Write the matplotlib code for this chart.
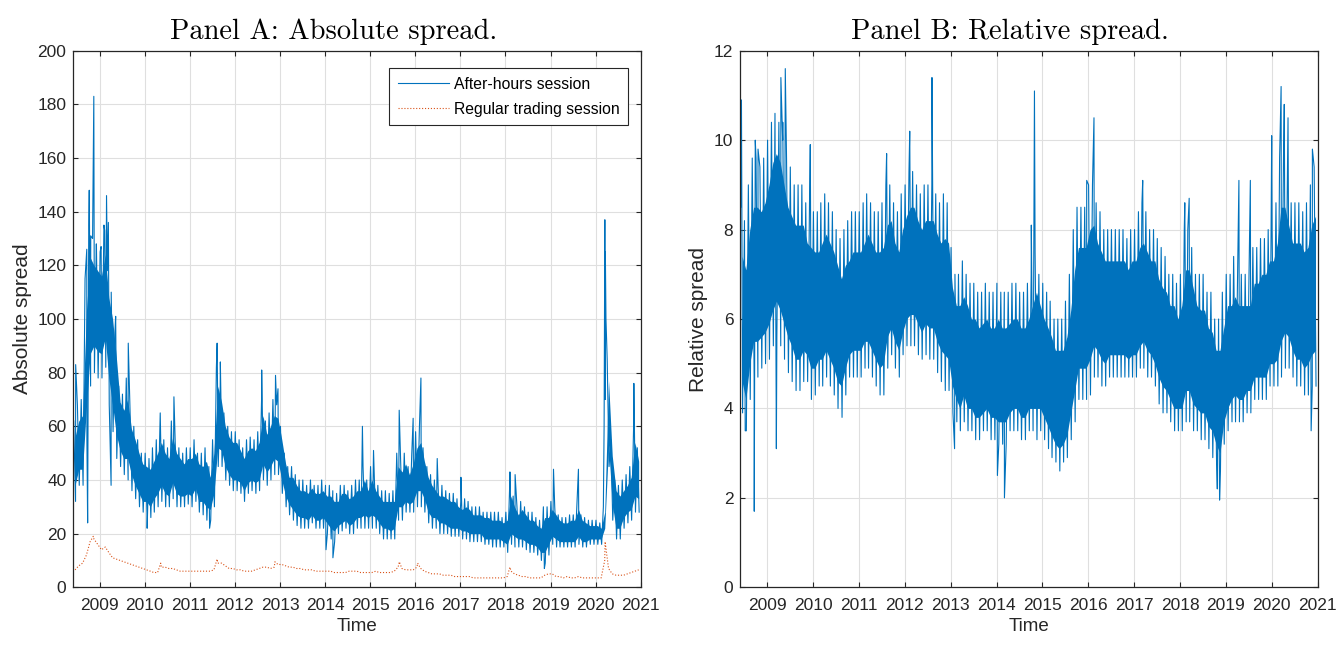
import numpy as np
import pandas as pd
import matplotlib
matplotlib.use("Agg")
import matplotlib.pyplot as plt
import matplotlib.dates as mdates

plt.rcParams['font.family'] = ['Liberation Sans', 'DejaVu Sans']

# monthly grid, Jun 2008 .. Dec 2020
months = pd.date_range("2008-06-01", "2020-12-01", freq="MS")

# Panel A, after-hours session: typical daily extremes per month
abs_hi = [62, 68, 70, 115, 135, 130, 128,
          125, 135, 118, 110, 95, 75, 72, 78, 65, 60, 55, 50,
          50, 48, 52, 55, 60, 55, 52, 62, 55, 52, 50, 52,
          52, 55, 50, 50, 52, 45, 55, 82, 75, 65, 60, 58,
          58, 55, 52, 55, 56, 55, 58, 70, 62, 65, 70, 68,
          60, 50, 45, 45, 42, 40, 40, 38, 40, 38, 38, 40,
          38, 38, 36, 35, 38, 38, 36, 38, 40, 40, 45, 40,
          45, 40, 38, 36, 36, 35, 36, 50, 48, 50, 45, 50,
          58, 60, 52, 45, 42, 40, 38, 38, 36, 35, 35, 33,
          32, 33, 32, 30, 30, 30, 28, 28, 28, 28, 28, 26,
          28, 38, 34, 30, 32, 30, 28, 28, 26, 25, 30, 30,
          32, 30, 27, 26, 26, 27, 27, 32, 27, 26, 25, 25,
          25, 24, 30, 85, 55, 40, 38, 40, 42, 45, 60, 52]
abs_lo = [32, 38, 38, 55, 75, 80, 78,
          78, 82, 68, 58, 48, 45, 42, 40, 36, 33, 30, 28,
          27, 26, 28, 30, 32, 30, 30, 33, 30, 30, 30, 31,
          30, 32, 28, 27, 25, 25, 30, 45, 45, 40, 38, 36,
          36, 35, 32, 35, 36, 35, 36, 40, 38, 40, 42, 42,
          35, 30, 27, 25, 23, 22, 22, 22, 24, 22, 22, 22,
          20, 18, 17, 20, 21, 22, 20, 20, 22, 22, 22, 22,
          22, 22, 20, 18, 18, 18, 18, 25, 25, 28, 28, 28,
          30, 30, 28, 24, 22, 22, 20, 20, 20, 19, 19, 19,
          18, 18, 17, 17, 17, 17, 16, 16, 15, 15, 15, 15,
          13, 16, 15, 15, 15, 14, 13, 13, 12, 10, 9, 12,
          16, 15, 15, 15, 15, 15, 15, 16, 15, 15, 16, 16,
          16, 16, 70, 45, 25, 18, 18, 22, 24, 25, 28, 28]
# dense core of the band per month
abs_core_hi = [56, 62, 64, 103, 123, 120, 118,
               116, 124, 108, 100, 86, 69, 66, 70, 59, 55, 50, 46,
               45, 44, 47, 50, 54, 50, 48, 56, 50, 48, 46, 48,
               48, 50, 46, 45, 47, 41, 50, 75, 69, 60, 56, 54,
               54, 51, 48, 51, 52, 51, 54, 64, 57, 60, 64, 63,
               55, 46, 41, 41, 38, 36, 36, 35, 37, 35, 35, 36,
               34, 34, 32, 32, 35, 35, 33, 34, 36, 36, 40, 36,
               40, 36, 34, 32, 32, 32, 32, 45, 43, 46, 42, 46,
               52, 54, 47, 41, 38, 36, 34, 34, 33, 32, 32, 30,
               29, 30, 29, 27, 27, 27, 26, 26, 25, 25, 25, 24,
               25, 34, 30, 27, 29, 27, 25, 25, 23, 22, 26, 26,
               29, 27, 25, 24, 24, 25, 25, 29, 25, 24, 23, 23,
               23, 22, 28, 77, 49, 36, 34, 36, 38, 41, 54, 47]
abs_core_lo = [38, 44, 44, 67, 87, 90, 88,
               87, 93, 78, 68, 57, 51, 48, 48, 42, 38, 35, 32,
               32, 30, 33, 35, 38, 35, 34, 39, 35, 34, 34, 35,
               34, 37, 32, 32, 30, 29, 35, 52, 51, 45, 42, 40,
               40, 39, 36, 39, 40, 39, 40, 46, 43, 45, 48, 47,
               40, 34, 31, 29, 27, 26, 26, 25, 27, 25, 25, 26,
               24, 22, 21, 23, 24, 25, 23, 24, 26, 26, 27, 26,
               27, 26, 24, 22, 22, 21, 22, 30, 30, 32, 31, 32,
               36, 36, 33, 28, 26, 26, 24, 24, 23, 22, 22, 22,
               21, 21, 20, 20, 20, 20, 18, 18, 18, 18, 18, 17,
               16, 20, 19, 18, 18, 17, 16, 16, 15, 13, 13, 16,
               19, 18, 17, 17, 17, 17, 17, 19, 17, 17, 18, 18,
               18, 18, 22, 53, 31, 22, 22, 26, 28, 29, 34, 33]
abs_spikes = [("2008-06-20", 83), ("2008-09-18", 126), ("2008-09-25", 24),
              ("2008-10-08", 148), ("2008-10-20", 131), ("2008-11-14", 183),
              ("2008-12-05", 128), ("2009-01-12", 127), ("2009-02-10", 133),
              ("2009-02-25", 146), ("2009-03-12", 136), ("2009-04-03", 38),
              ("2009-05-10", 101), ("2009-08-20", 91), ("2010-01-20", 22),
              ("2010-05-06", 65), ("2010-08-25", 71), ("2011-06-10", 22),
              ("2011-08-10", 91), ("2011-09-05", 84), ("2012-08-05", 81),
              ("2012-11-25", 79), ("2012-12-15", 74), ("2014-01-08", 14),
              ("2014-03-05", 11), ("2014-10-30", 60), ("2015-01-28", 51),
              ("2015-08-24", 66), ("2015-12-15", 63), ("2016-02-16", 78),
              ("2016-06-27", 48), ("2017-01-05", 41), ("2018-02-06", 43),
              ("2018-03-20", 42), ("2018-11-12", 7), ("2019-01-25", 44),
              ("2019-08-15", 44), ("2020-03-10", 60), ("2020-03-16", 137),
              ("2020-03-20", 125), ("2020-03-25", 100), ("2020-11-06", 76)]

# Panel A, regular trading session (monthly level)
reg_abs = [6.5, 8, 9, 12, 17, 18, 16,
           14, 15, 13, 11, 10.5, 10, 9.5, 9, 8.5, 8, 7.5, 7,
           6.5, 6, 5.5, 5.5, 7.5, 7.5, 7, 7, 6.5, 6, 6, 6,
           6, 6, 6, 6, 6, 6, 6.5, 9, 9, 8, 7, 7,
           6.5, 6.5, 6, 6, 6, 6.5, 7, 7.5, 7.5, 7, 7.5, 8.5,
           8.5, 8, 7.5, 7.5, 7, 7, 6.5, 6.5, 6.5, 6, 6, 6,
           6, 6, 5.5, 5.5, 5.5, 5.5, 6, 6, 6, 5.5, 5.5, 5.5,
           5.5, 6, 5.5, 5.5, 5.5, 5.5, 6, 7.5, 7, 6.5, 6.5, 6.5,
           7.5, 7, 6, 5.5, 5, 5, 5, 4.5, 4.5, 4.5, 4, 4,
           4, 4, 4, 3.5, 3.5, 3.5, 3.5, 3.5, 3.5, 3.5, 3.5, 3.5,
           4, 6, 5, 4.5, 4, 4, 3.5, 3.5, 3.5, 3.5, 4.5, 5,
           5, 4, 4, 3.5, 4, 3.5, 3.5, 4, 3.5, 3.5, 3.5, 3.5,
           3.5, 3.5, 10, 7, 5, 4.5, 4.5, 4.5, 5, 5.5, 6, 6.5]
reg_spikes = [("2008-11-10", 19), ("2010-05-10", 9), ("2011-08-10", 10.5),
              ("2012-11-20", 9.5), ("2015-08-25", 9.5), ("2016-01-20", 9),
              ("2018-02-06", 7.5), ("2020-03-18", 17)]

# Panel B, relative spread: typical daily extremes per month
rel_hi = [8.5, 8.2, 9.0, 9.6, 9.6, 9.4, 9.6,
          10.0, 10.4, 10.6, 10.4, 10.0, 9.6, 9.4, 9.0, 9.0, 9.0, 8.6, 8.6,
          8.4, 8.4, 8.6, 8.8, 8.6, 8.4, 8.0, 7.8, 8.0, 8.2, 8.4, 8.4,
          8.4, 8.6, 8.8, 8.6, 8.4, 8.4, 8.6, 9.0, 9.0, 8.6, 8.4, 8.8,
          9.0, 9.3, 9.3, 9.0, 8.8, 9.0, 9.0, 9.0, 8.8, 8.6, 8.8, 8.6,
          7.6, 7.0, 7.0, 7.3, 7.0, 6.8, 6.8, 6.6, 6.6, 6.8, 6.6, 6.6,
          6.8, 6.6, 6.6, 6.6, 6.8, 6.8, 6.6, 6.6, 6.8, 7.0, 7.5, 7.0,
          6.8, 6.6, 6.4, 6.0, 6.0, 6.0, 6.4, 7.0, 8.0, 8.5, 8.5, 8.5,
          9.0, 9.0, 8.6, 8.4, 8.0, 8.0, 8.0, 8.0, 8.0, 8.0, 7.8, 8.0,
          8.0, 8.4, 8.6, 8.4, 8.0, 8.0, 7.8, 7.6, 7.4, 7.0, 7.0, 6.8,
          7.0, 8.0, 8.0, 7.6, 7.0, 7.0, 7.0, 6.6, 6.6, 6.0, 6.0, 6.6,
          7.0, 7.0, 7.4, 7.0, 7.0, 7.0, 7.0, 7.6, 7.6, 7.8, 7.8, 8.0,
          8.0, 8.6, 9.6, 9.6, 9.0, 8.6, 8.6, 8.6, 8.4, 8.6, 9.0, 9.4]
rel_lo = [3.9, 3.5, 4.2, 4.7, 4.7, 4.9, 5.0,
          5.1, 5.4, 5.6, 5.4, 5.1, 4.8, 4.6, 4.4, 4.4, 4.6, 4.6, 4.2,
          4.3, 4.5, 4.5, 4.7, 4.5, 4.3, 4.0, 3.9, 4.3, 4.7, 4.7, 4.7,
          4.7, 4.9, 4.9, 4.7, 4.5, 4.3, 4.3, 4.9, 5.2, 4.9, 4.7, 5.2,
          5.4, 5.4, 5.4, 5.2, 5.1, 5.2, 5.1, 5.1, 4.8, 4.6, 4.4, 4.4,
          3.9, 3.7, 3.5, 3.7, 3.5, 3.5, 3.3, 3.3, 3.5, 3.5, 3.3, 3.3,
          3.2, 3.2, 3.2, 3.5, 3.5, 3.5, 3.3, 3.3, 3.5, 3.5, 3.3, 3.5,
          3.3, 3.1, 2.9, 2.8, 2.7, 2.8, 2.9, 3.3, 3.7, 4.2, 4.2, 4.2,
          4.3, 4.7, 4.7, 4.5, 4.5, 4.7, 4.7, 4.7, 4.7, 4.7, 4.7, 4.7,
          4.7, 4.9, 4.9, 4.7, 4.7, 4.5, 4.1, 3.9, 3.9, 3.7, 3.5, 3.5,
          3.5, 3.7, 3.7, 3.5, 3.5, 3.3, 3.3, 3.1, 2.9, 2.8, 2.6, 3.2,
          3.5, 3.7, 3.7, 3.7, 3.7, 3.9, 3.9, 4.2, 4.2, 4.2, 4.2, 4.5,
          4.5, 4.5, 4.7, 4.9, 4.9, 4.7, 4.5, 4.5, 4.3, 4.3, 4.5, 4.5]
# dense core of the band per month
rel_core_hi = [7.4, 7.1, 8.0, 8.5, 8.5, 8.4, 8.6,
               9.0, 9.5, 9.7, 9.5, 9.0, 8.5, 8.3, 8.1, 8.1, 8.1, 7.7, 7.6,
               7.5, 7.5, 7.7, 7.9, 7.7, 7.5, 7.2, 6.9, 7.2, 7.3, 7.5, 7.5,
               7.5, 7.7, 7.9, 7.7, 7.5, 7.5, 7.6, 8.1, 8.2, 7.7, 7.5, 8.0,
               8.3, 8.5, 8.5, 8.2, 8.0, 8.2, 8.2, 8.2, 7.9, 7.7, 7.8, 7.7,
               6.7, 6.3, 6.3, 6.5, 6.3, 6.0, 6.0, 5.8, 5.9, 6.0, 5.8, 5.8,
               6.0, 5.8, 5.8, 5.9, 6.0, 6.0, 5.8, 5.8, 6.0, 6.3, 6.6, 6.3,
               6.0, 5.8, 5.6, 5.3, 5.3, 5.3, 5.6, 6.2, 7.1, 7.6, 7.6, 7.6,
               8.0, 8.1, 7.7, 7.5, 7.3, 7.3, 7.3, 7.3, 7.3, 7.3, 7.1, 7.3,
               7.3, 7.6, 7.7, 7.5, 7.3, 7.3, 6.9, 6.7, 6.6, 6.3, 6.3, 6.0,
               6.3, 7.1, 7.1, 6.7, 6.3, 6.2, 6.2, 5.8, 5.7, 5.3, 5.3, 5.8,
               6.3, 6.3, 6.5, 6.3, 6.3, 6.3, 6.3, 6.8, 6.8, 7.0, 7.0, 7.3,
               7.3, 7.7, 8.5, 8.5, 8.1, 7.7, 7.7, 7.7, 7.5, 7.6, 8.1, 8.3]
rel_core_lo = [4.6, 4.2, 5.0, 5.5, 5.5, 5.6, 5.7,
               5.9, 6.2, 6.4, 6.2, 5.9, 5.6, 5.4, 5.1, 5.1, 5.3, 5.2, 4.9,
               4.9, 5.1, 5.1, 5.3, 5.1, 4.9, 4.6, 4.5, 4.9, 5.2, 5.3, 5.3,
               5.3, 5.5, 5.5, 5.3, 5.1, 4.9, 5.0, 5.6, 5.8, 5.5, 5.3, 5.7,
               6.0, 6.1, 6.1, 5.9, 5.7, 5.9, 5.8, 5.8, 5.5, 5.3, 5.2, 5.1,
               4.5, 4.2, 4.0, 4.3, 4.0, 4.0, 3.8, 3.8, 3.9, 4.0, 3.8, 3.8,
               3.7, 3.7, 3.7, 3.9, 4.0, 4.0, 3.8, 3.8, 4.0, 4.0, 4.0, 4.0,
               3.8, 3.6, 3.4, 3.2, 3.1, 3.2, 3.4, 3.9, 4.4, 4.9, 4.9, 4.9,
               5.1, 5.4, 5.3, 5.1, 5.0, 5.2, 5.2, 5.2, 5.2, 5.2, 5.1, 5.2,
               5.2, 5.4, 5.5, 5.3, 5.2, 5.0, 4.7, 4.5, 4.4, 4.2, 4.0, 4.0,
               4.0, 4.4, 4.4, 4.1, 4.0, 3.9, 3.9, 3.6, 3.5, 3.2, 3.0, 3.7,
               4.0, 4.2, 4.3, 4.2, 4.2, 4.4, 4.4, 4.7, 4.7, 4.7, 4.7, 5.0,
               5.0, 5.1, 5.5, 5.7, 5.6, 5.3, 5.1, 5.1, 4.9, 5.0, 5.2, 5.3]
rel_spikes = [("2008-06-10", 10.9), ("2008-07-10", 3.5), ("2008-09-20", 1.7),
              ("2008-09-28", 10.0), ("2008-10-20", 9.8), ("2009-03-15", 3.1),
              ("2009-04-20", 11.4), ("2009-05-05", 10.4), ("2009-05-25", 11.6),
              ("2009-12-10", 9.9), ("2010-08-20", 3.8), ("2011-08-10", 9.7),
              ("2012-02-10", 10.2), ("2012-08-05", 11.4), ("2013-02-01", 3.1),
              ("2014-01-08", 2.5), ("2014-03-05", 2.0), ("2014-10-05", 8.1),
              ("2014-10-30", 11.1), ("2015-05-20", 2.6), ("2015-12-20", 9.1),
              ("2016-02-16", 10.5), ("2017-03-10", 9.1), ("2018-02-08", 8.6),
              ("2018-03-15", 8.7), ("2018-10-25", 2.2), ("2018-11-12", 1.95),
              ("2019-04-15", 9.1), ("2019-07-15", 9.1), ("2020-01-01", 10.1),
              ("2020-03-16", 11.2), ("2020-04-10", 10.8), ("2020-05-10", 10.5),
              ("2020-11-10", 3.5), ("2020-11-20", 9.8)]

blue = '#0072BD'
orange = '#D95319'
dark = '#262626'


def band(hi, lo, spikes):
    t = list(months + pd.Timedelta(days=3)) + list(months + pd.Timedelta(days=18))
    v = list(hi) + list(lo)
    for d, val in spikes:
        t.append(pd.Timestamp(d))
        v.append(val)
    s = pd.Series(v, index=pd.DatetimeIndex(t)).sort_index()
    return s.index, s.values


def level(vals, spikes):
    t = list(months + pd.Timedelta(days=14))
    v = list(vals)
    for d, val in spikes:
        t.append(pd.Timestamp(d))
        v.append(val)
    s = pd.Series(v, index=pd.DatetimeIndex(t)).sort_index()
    return s.index, s.values


def style(ax, ymax, ystep, ylabel):
    ax.set_xlim(pd.Timestamp("2008-06-01"), pd.Timestamp("2021-01-01"))
    ax.set_ylim(0, ymax)
    ax.set_yticks(np.arange(0, ymax + ystep / 2, ystep))
    ax.xaxis.set_major_locator(mdates.YearLocator())
    ax.xaxis.set_major_formatter(mdates.DateFormatter('%Y'))
    ax.grid(True, color='#dfdfdf', lw=0.8)
    ax.set_axisbelow(True)
    ax.tick_params(direction='in', top=True, right=True, length=3.5, width=0.8,
                   colors=dark, labelsize=12.5)
    ax.tick_params(axis='x', pad=8)
    ax.tick_params(axis='y', pad=5)
    for sp in ax.spines.values():
        sp.set_color(dark)
        sp.set_linewidth(0.9)
    ax.set_xlabel('Time', fontsize=13.5, color=dark, labelpad=3)
    ax.set_ylabel(ylabel, fontsize=15, color=dark, labelpad=4)


fig = plt.figure(figsize=(13.38, 6.47), dpi=100)
axA = fig.add_axes([0.0548, 0.0923, 0.4241, 0.8293])
axB = fig.add_axes([0.5533, 0.0923, 0.4315, 0.8293])

mid = months + pd.Timedelta(days=14)

tA, vA = band(abs_hi, abs_lo, abs_spikes)
tR, vR = level(reg_abs, reg_spikes)
axA.fill_between(mid, abs_core_lo, abs_core_hi, color=blue, lw=0)
axA.plot(tA, vA, color=blue, lw=0.8, label='After-hours session')
axA.plot(tR, vR, color=orange, lw=0.8, ls=':', label='Regular trading session')
style(axA, 200, 20, 'Absolute spread')
leg = axA.legend(loc='upper right', bbox_to_anchor=(0.9776, 0.9678), borderaxespad=0,
                 fontsize=11.3, handlelength=3.25, handletextpad=0.3, labelspacing=0.65,
                 borderpad=0.55, fancybox=False, framealpha=1)
leg.get_frame().set_edgecolor(dark)
leg.get_frame().set_linewidth(0.8)

tB, vB = band(rel_hi, rel_lo, rel_spikes)
axB.fill_between(mid, rel_core_lo, rel_core_hi, color=blue, lw=0)
axB.plot(tB, vB, color=blue, lw=0.8)
style(axB, 12, 2, 'Relative spread')

fig.text(334 / 1338, 1 - 39 / 647, 'Panel A: Absolute spread.', family='cmr10',
         fontsize=20.5, ha='center', va='baseline')
fig.text(1010 / 1338, 1 - 39 / 647, 'Panel B: Relative spread.', family='cmr10',
         fontsize=20.5, ha='center', va='baseline')

fig.savefig('out.png', dpi=100)
